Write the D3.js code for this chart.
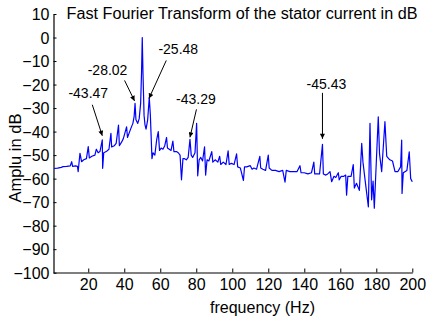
<!DOCTYPE html>
<html><head><meta charset="utf-8">
<script src="https://cdn.jsdelivr.net/npm/d3@7"></script>
<style>
html,body{margin:0;padding:0;background:#fff;}
svg{display:block;font-family:"Liberation Sans",Arial,Helvetica,sans-serif;}
</style></head>
<body><svg id="c" width="428" height="322"></svg>
<script>
const title = "Fast Fourier Transform of the stator current in dB";
const xLabel = "frequency (Hz)";
const yLabel = "Amplu in dB";
const xTicks = [20,40,60,80,100,120,140,160,180,200];
const yTicks = [10,0,-10,-20,-30,-40,-50,-60,-70,-80,-90,-100];

const freqs = [1,3,5,6,8,10,10.8,11.3,13,14,14.4,15.4,16.3,17.5,19,20,20.6,22,23.7,24.5,25.5,26.5,27.8,28,28.6,30,31.5,32.6,33,34.5,35.5,36.8,37.3,38.5,39.5,41.3,41.8,43,44,44.8,45.5,46,46.5,47.5,48.3,49.1,49.6,50,50.4,51,51.5,52.1,53,53.9,54.5,55.4,56,57,58,58.9,59.6,60.5,61.5,62.5,63.5,64,65,66,67,67.6,69,70,71,71.8,72.6,73.5,74.5,75.5,76.5,77.2,78,79.3,80.2,80.8,81.6,82.5,83.5,84.6,85.2,86,87,88.6,89.2,90.5,92,93,93.6,95,96.5,97.7,98.3,99.5,101,102.4,103,104.5,106.2,106.8,108,110,111,112,113.5,115.3,115.8,117,118.5,120,120.5,122,124,126,128,129.3,130,132,134,136,137.6,138.2,140,142,144,145.3,145.8,147,148.5,150.1,150.6,152,153,154.3,155.2,156.5,157.5,158.9,159.4,160.5,162,163,163.5,164.2,166,167.2,167.8,169,170.6,171.9,172.6,174,175.6,176.5,177.4,178.2,178.9,181.1,181.8,183,184.8,185.8,187.5,189,190.4,192,193.5,194.1,194.3,195,197,198.3,199.1,200];
const amps = [-55.7,-55.5,-55.2,-54.9,-54.8,-54.6,-52.8,-54.8,-54.6,-54.8,-57,-49.2,-52.8,-52,-51.5,-46.4,-51.2,-50.5,-50,-47.5,-49,-48.5,-43.47,-55.6,-49,-48.5,-47.5,-40.7,-46.5,-46,-45,-37.2,-46,-44.5,-43,-38,-42.5,-40,-38,-36.5,-33.5,-28.02,-35,-36.5,-34.5,-28,-15,0,-15,-33,-37,-39,-35,-25.48,-33,-51.5,-49,-50,-43.5,-40,-48,-47,-47.5,-46,-42.5,-47,-47.5,-48,-44,-48.5,-48.5,-49,-50,-60.5,-51.5,-51.5,-52,-51,-43.29,-50,-51,-49,-36.5,-58.8,-52,-51,-52.5,-46.5,-58.5,-52,-52.5,-48.5,-53,-52,-53,-50.5,-54,-53,-54,-48.2,-54,-53.5,-54,-49.5,-55,-55.5,-60.8,-55,-55,-54.5,-56,-55.5,-56,-50.5,-55.5,-56,-56.5,-50,-55.5,-56.5,-56.5,-57,-56.5,-61.5,-56.5,-57,-57,-57,-54.5,-57.5,-57.5,-58,-57.5,-53,-58,-58,-58,-45.43,-58,-58.5,-58,-57,-61.3,-59,-59.5,-57.5,-60.5,-59,-59,-58.5,-67,-59,-59,-54,-64,-62,-65,-45,-53,-62,-72,-36.5,-69,-61,-72.6,-33.7,-49.5,-57,-35.8,-50.5,-52,-52.5,-57,-57,-55,-43.6,-66.3,-57.5,-56.5,-48.6,-60,-61.3];

// annotated peaks
const annFreqs = [27.8, 46, 53.9, 76.5, 150.1];
const annValues = [-43.47, -28.02, -25.48, -43.29, -45.43];
const annLabels = ["-43.47","-28.02","-25.48","-43.29","-45.43"];

// layout (pixel offsets relative to the peak): tip gap, tail offset, text offset
const annLayout = [
  {tip:[0,-4], tail:[-10,-35], text:[-14,-42]},
  {tip:[-0.5,-2.5], tail:[-10.5,-23], text:[-27.5,-28]},
  {tip:[-0.3,1], tail:[17,-37], text:[29,-43]},
  {tip:[0,-2], tail:[6.5,-30], text:[6,-35]},
  {tip:[0,-5.5], tail:[0,-51.5], text:[4,-55.5]}
];

const svg = d3.select("#c");
const x = d3.scaleLinear().domain([0.7,200]).range([53.5,412.3]);
const y = d3.scaleLinear().domain([-100,10]).range([272.7,14]);

// axes
const gx = svg.append("g").attr("transform","translate(0,272.5)")
  .call(d3.axisBottom(x).tickValues(xTicks).tickSizeInner(-4).tickSizeOuter(0).tickPadding(6));
const gy = svg.append("g").attr("transform","translate(53.5,0)")
  .call(d3.axisLeft(y).tickValues(yTicks).tickSizeInner(-3).tickSizeOuter(0).tickPadding(4));
[gx,gy].forEach(g=>{
  g.select(".domain").attr("stroke","#000").attr("stroke-width",1.2);
  g.selectAll(".tick line").attr("stroke","#000");
  g.selectAll(".tick text").attr("fill","#000").attr("font-size",16).attr("font-family","Liberation Sans, Arial, sans-serif");
});
gy.selectAll(".tick text").attr("dy","0.36em");

// line
const pts = freqs.map((f,i)=>[f,amps[i]]);
svg.append("path").datum(pts)
  .attr("fill","none").attr("stroke","#0000ff").attr("stroke-width",1.2)
  .attr("stroke-linejoin","round")
  .attr("d", d3.line().x(d=>x(d[0])).y(d=>y(d[1])));

// arrow marker
svg.append("defs").append("marker").attr("id","ah")
  .attr("viewBox","0 0 10 10").attr("refX",10).attr("refY",5)
  .attr("markerWidth",7).attr("markerHeight",5).attr("markerUnits","userSpaceOnUse")
  .attr("orient","auto")
  .append("path").attr("d","M0,0L10,5L0,10z").attr("fill","#000");

annFreqs.forEach((f,i)=>{
  const px = x(f), py = y(annValues[i]);
  const L = annLayout[i];
  const tx = px+L.tip[0], ty = py+L.tip[1];
  svg.append("line").attr("x1",px+L.tail[0]).attr("y1",py+L.tail[1])
    .attr("x2",tx).attr("y2",ty).attr("stroke","#000").attr("stroke-width",1)
    .attr("marker-end","url(#ah)");
  svg.append("text").attr("x",px+L.text[0]).attr("y",py+L.text[1])
    .attr("text-anchor","middle").attr("font-size",14).attr("fill","#000")
    .text(annLabels[i]);
});

// titles
svg.append("text").attr("x",66.5).attr("y",18.5).attr("font-size",16).attr("fill","#000")
  .attr("textLength",351).attr("lengthAdjust","spacingAndGlyphs").text(title);
svg.append("text").attr("x",262.5).attr("y",312.5).attr("text-anchor","middle").attr("font-size",16).attr("fill","#000").text(xLabel);
svg.append("text").attr("transform","translate(21,158) rotate(-90)").attr("text-anchor","middle").attr("font-size",16.5).attr("fill","#000").text(yLabel);
</script></body></html>
